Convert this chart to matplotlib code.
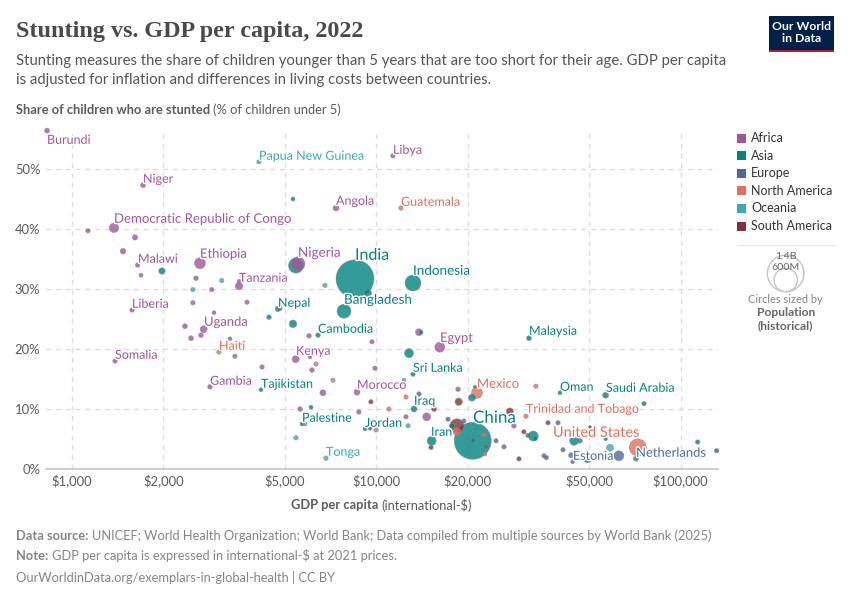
import numpy as np
import matplotlib
matplotlib.use('Agg')
import matplotlib.pyplot as plt
import matplotlib.patheffects as pe
from matplotlib.patches import Rectangle, Circle
from matplotlib.lines import Line2D

plt.rcParams['font.family'] = ['Lato', 'DejaVu Sans']

# GDP per capita (int-$), stunting (%), population (millions), by continent
africa_gdp = [830, 1715, 1377, 1131, 1614, 1474, 1647, 1689, 2638, 2560, 2884, 3543, 3550, 5534, 7380, 11350,
              1578, 2500, 3765, 2933, 2355, 2713, 2465, 2658, 3311, 3436, 1388, 2844, 4217, 5440, 6062, 6152,
              6016, 9683, 9908, 8650, 6683, 5623, 8770, 16180, 13820, 14650, 18570, 28340, 12530, 16830, 4832]
africa_stunting = [56.4, 47.3, 40.2, 39.7, 38.6, 36.3, 34, 32.3, 34.3, 31.8, 29.9, 30.5, 31.3, 34.2, 43.5, 52.2,
                   26.5, 27.7, 27.8, 26.05, 23.8, 23.3, 21.8, 22.3, 21.7, 18.8, 18, 13.7, 17, 18.3, 18.7, 16.5,
                   22.2, 21.2, 16.8, 12.8, 12.7, 10, 9.5, 20.3, 22.8, 8.7, 13.3, 7.2, 8.7, 16.2, 26.8]
africa_pop = [24, 24, 86, 19, 28, 30, 20, 15.5, 117, 20.5, 19, 56, 15.5, 190, 35, 20.5,
              19, 19, 19, 15.5, 24, 48, 24, 20.5, 15.5, 19, 19, 20.5, 19, 48, 15.5, 20.5,
              20.5, 19, 19, 35, 35, 20.5, 20.5, 97, 48, 62, 20.5, 20.5, 19, 9, 19]

asia_gdp = [8520, 13210, 7840, 5454, 9400, 1979, 5330, 4760, 4446, 5330, 6442, 4184, 6108, 5706, 9186, 9550,
            13210, 12820, 31750, 13310, 20640, 21100, 15210, 20750, 20800, 32800, 33300, 40140, 56700, 75770,
            113700, 131300, 56700, 44670, 50350, 49430, 17740, 15300, 14030]
asia_stunting = [31.7, 31, 26.3, 33.9, 29.3, 33, 45, 26.7, 25.3, 24.2, 22.3, 13.2, 10.3, 7.5, 6.7, 6.8,
                 15.8, 19.3, 21.8, 10, 11.9, 13.7, 4.7, 4.7, 4.8, 5.5, 5.05, 12.7, 12.3, 10.9,
                 4.5, 3.05, 5, 4.7, 7, 1.7, 7.2, 6.3, 22.8]
asia_pop = [1400, 248, 190, 218, 48, 40, 15.5, 30, 20.5, 56, 20.5, 15.5, 15.5, 15.5, 15.5, 15.5,
            19, 79, 24, 35, 48, 9, 79, 1330, 15.5, 97, 15.5, 15.5, 35, 19,
            19, 19, 12.6, 79, 9, 62, 24, 9, 15.5]

europe_gdp = [13820, 17220, 19410, 24750, 26280, 22940, 31510, 35560, 36200, 39540, 41070, 43650, 44190, 46670,
              62660, 71280]
europe_stunting = [12.5, 8.3, 8, 4.7, 3.7, 3.7, 5.6, 2.2, 1.9, 7.7, 3.2, 2.3, 1.2, 4.7, 2.2, 1.7]
europe_pop = [20.5, 19, 19, 19, 19, 19, 19, 19, 19, 19, 19, 24, 15.5, 24, 97, 24]

north_america_gdp = [12060, 3045, 6345, 7211, 9990, 11010, 12530, 21430, 33460, 31040, 22590, 22750, 18410, 72300]
north_america_stunting = [43.5, 19.5, 17.5, 14.8, 6.5, 10, 12, 12.7, 13.8, 8.8, 5.7, 2.5, 6.2, 3.6]
north_america_pop = [19, 19, 19, 19, 19, 19, 19, 117, 19, 19, 19, 15.5, 62, 280]

oceania_gdp = [4121, 3110, 2500, 6790, 5452, 5836, 6839, 58610, 12720, 12340]
oceania_stunting = [51.2, 31.4, 29.9, 30.6, 5.2, 7.5, 1.8, 3.55, 7.2, 14.8]
oceania_pop = [19, 19, 19, 19, 19, 15.5, 20.5, 48, 19, 15.5]

south_america_gdp = [9610, 18410, 18660, 15490, 15140, 27480, 30550, 29440, 36660]
south_america_stunting = [11.2, 7.2, 11.2, 10, 3.6, 9.6, 6.2, 1.7, 7.7]
south_america_pop = [19, 190, 53, 24, 19, 48, 19, 19, 19]

continents = ['Africa', 'Asia', 'Europe', 'North America', 'Oceania', 'South America']
colors = {'Africa': '#A2559C', 'Asia': '#00847E', 'Europe': '#4C6A9C',
          'North America': '#E56E5A', 'Oceania': '#38AABA', 'South America': '#883039'}
series = {'Africa': (africa_gdp, africa_stunting, africa_pop),
          'Asia': (asia_gdp, asia_stunting, asia_pop),
          'Europe': (europe_gdp, europe_stunting, europe_pop),
          'North America': (north_america_gdp, north_america_stunting, north_america_pop),
          'Oceania': (oceania_gdp, oceania_stunting, oceania_pop),
          'South America': (south_america_gdp, south_america_stunting, south_america_pop)}

x_ticks = [1000, 2000, 5000, 10000, 20000, 50000, 100000]
x_tick_labels = ['$1,000', '$2,000', '$5,000', '$10,000', '$20,000', '$50,000', '$100,000']
y_ticks = [0, 10, 20, 30, 40, 50]

# country name, continent, left px, middle px, font px
labels = [
    ('Burundi', 'Africa', 47, 139, 12.5), ('Papua New Guinea', 'Oceania', 259, 155, 12.5),
    ('Libya', 'Africa', 393, 149, 12.5), ('Niger', 'Africa', 143, 178, 12.5),
    ('Angola', 'Africa', 336, 200, 12.5), ('Guatemala', 'North America', 401, 201, 12.5),
    ('Democratic Republic of Congo', 'Africa', 114, 218, 13.2), ('Malawi', 'Africa', 138, 258, 12.5),
    ('Ethiopia', 'Africa', 200, 253, 13), ('Nigeria', 'Africa', 298, 252, 13.5),
    ('India', 'Asia', 355, 255, 16), ('Indonesia', 'Asia', 413, 270, 13.5),
    ('Tanzania', 'Africa', 239, 277, 12.5), ('Nepal', 'Asia', 278, 302, 12.5),
    ('Bangladesh', 'Asia', 344, 299, 13.5), ('Liberia', 'Africa', 132, 303, 12.5),
    ('Uganda', 'Africa', 204, 321, 13), ('Cambodia', 'Asia', 318, 328, 12.5),
    ('Malaysia', 'Asia', 529, 330, 12.5), ('Egypt', 'Africa', 440, 337, 13),
    ('Somalia', 'Africa', 115, 354, 12.5), ('Haiti', 'North America', 219, 345, 12.5),
    ('Kenya', 'Africa', 296, 350, 12.5), ('Sri Lanka', 'Asia', 413, 367, 12.5),
    ('Gambia', 'Africa', 210, 380, 12.5), ('Tajikistan', 'Asia', 261, 383, 12.5),
    ('Morocco', 'Africa', 357, 384, 12.5), ('Mexico', 'North America', 477, 383, 13),
    ('Oman', 'Asia', 560, 386, 12.5), ('Saudi Arabia', 'Asia', 606, 387, 12.5),
    ('Iraq', 'Asia', 414, 400, 12.5), ('Trinidad and Tobago', 'North America', 526, 408, 12.5),
    ('Palestine', 'Asia', 302, 417, 12.5), ('China', 'Asia', 473, 417, 17),
    ('Jordan', 'Asia', 365, 422, 12.5), ('Iran', 'Asia', 431, 431, 12.5),
    ('United States', 'North America', 553, 432, 14.5), ('Netherlands', 'Europe', 636, 452, 13),
    ('Tonga', 'Oceania', 326, 451, 12.5), ('Estonia', 'Europe', 573, 455, 12.5),
]

W, H = 850, 600
GREY = '#5b5b5b'
LIGHT = '#858585'
GRID = '#dddddd'

fig = plt.figure(figsize=(W / 100, H / 100), dpi=100)
ax = fig.add_axes([46 / W, 1 - 469 / H, (718 - 46) / W, (469 - 130) / H])
ax.set_xscale('log')
ax.set_xlim(823.5, 132600)
ax.set_ylim(0, 56.5)
ax.set_xticks(x_ticks)
ax.set_xticklabels(x_tick_labels, fontsize=9.4, color=GREY)
ax.set_xticks([], minor=True)
ax.set_yticks(y_ticks)
ax.set_yticklabels([f'{v}%' for v in y_ticks], fontsize=9.4, color=GREY)
ax.tick_params(axis='both', length=0, pad=4)
ax.grid(True, color=GRID, linestyle=(0, (3.5, 3.5)), linewidth=1)
ax.set_axisbelow(True)
for s in ['top', 'right', 'left']:
    ax.spines[s].set_visible(False)
ax.spines['bottom'].set_color('#c4c4c4')
ax.spines['bottom'].set_linewidth(1.2)

# biggest circles first so the small ones stay on top
gdp, stunting, pop, cols = [], [], [], []
for c in continents:
    g, st, p = series[c]
    gdp += g
    stunting += st
    pop += p
    cols += [colors[c]] * len(g)
gdp, stunting, pop = np.array(gdp), np.array(stunting), np.array(pop)
order = np.argsort(-pop)
# radius 19 px for 1400M, area proportional to population
radius_px = 19 * np.sqrt(pop / 1400)
sizes = (2 * radius_px * 0.72) ** 2
ax.scatter(gdp[order], stunting[order], s=sizes[order], c=[cols[i] for i in order],
           alpha=0.8, linewidths=0.4, edgecolors='#888888', zorder=3, clip_on=False)


def px(x, y):
    return x / W, 1 - y / H


def txt(x, y, s, size, color=GREY, weight='normal', ha='left', **kw):
    # size is given in pixels
    return fig.text(*px(x, y), s, fontsize=size * 0.72, color=color, fontweight=weight,
                    ha=ha, va='center', **kw)


def bold_then_regular(x, y, bold, regular, size, color=GREY):
    t = txt(x, y, bold, size, color, 'bold')
    box = t.get_window_extent(fig.canvas.get_renderer())
    txt(box.x1 + size * 0.25, y, regular, size, color)


# the labels carry a white halo that covers the dots under them
for name, cont, x, y, size in labels:
    t = txt(x, y + 0.8, name, size, colors[cont], zorder=5)
    t.set_path_effects([pe.withStroke(linewidth=2, foreground='white')])

# header
fig.text(*px(16, 31), 'Stunting vs. GDP per capita, 2022', fontsize=17.4, color='#4a4a4a',
         fontweight='bold', family='Liberation Serif', ha='left', va='center')
txt(16, 61, 'Stunting measures the share of children younger than 5 years that are too short for their age. GDP per capita',
    14.85, '#555555')
txt(16, 80, 'is adjusted for inflation and differences in living costs between countries.', 14.85, '#555555')
bold_then_regular(16, 110, 'Share of children who are stunted', '(% of children under 5)', 12.9)
bold_then_regular(291, 505, 'GDP per capita', '(international-$)', 12.9)

# logo
fig.add_artist(Rectangle(px(769, 52), 65 / W, 36 / H, transform=fig.transFigure, color='#002147', lw=0))
fig.add_artist(Rectangle(px(769, 52), 65 / W, 2.5 / H, transform=fig.transFigure, color='#C0143C', lw=0))
txt(801.5, 27, 'Our World', 12.3, 'white', 'bold', ha='center')
txt(801.5, 39, 'in Data', 12.3, 'white', 'bold', ha='center')

# colour legend
for i, c in enumerate(continents):
    y = 138 + i * 17.6
    fig.add_artist(Rectangle(px(737, y + 4.5), 9 / W, 9 / H, transform=fig.transFigure, color=colors[c], lw=0))
    txt(751, y, c, 12.5, '#333333')
fig.add_artist(Line2D([737 / W, 834 / W], [1 - 245 / H] * 2, transform=fig.transFigure, color='#e7e7e7', lw=1))

# size legend
overlay = fig.add_axes([0, 0, 1, 1], facecolor='none')
overlay.set_xlim(0, W)
overlay.set_ylim(H, 0)
overlay.axis('off')
for r in [18.3, 11.7]:
    overlay.add_patch(Circle((785.7, 291.7 - r), r, fill=False, ec='#c4c4c4', lw=1))
txt(785.7, 256, '1.4B', 10.5, '#666666', ha='center', zorder=5)
txt(785.7, 268, '600M', 10.5, '#666666', ha='center', zorder=5)
txt(785.7, 299.5, 'Circles sized by', 11, LIGHT, ha='center')
txt(785.7, 313, 'Population', 12, '#666666', 'bold', ha='center')
txt(785.7, 326, '(historical)', 12, '#666666', 'bold', ha='center')

# footer
bold_then_regular(16, 536, 'Data source:', 'UNICEF; World Health Organization; World Bank; Data compiled from multiple sources by World Bank (2025)', 12.85, LIGHT)
bold_then_regular(16, 556, 'Note:', 'GDP per capita is expressed in international-$ at 2021 prices.', 12.85, LIGHT)
txt(16, 577, 'OurWorldinData.org/exemplars-in-global-health | CC BY', 12.85, LIGHT)

fig.savefig('out.png', dpi=100)
